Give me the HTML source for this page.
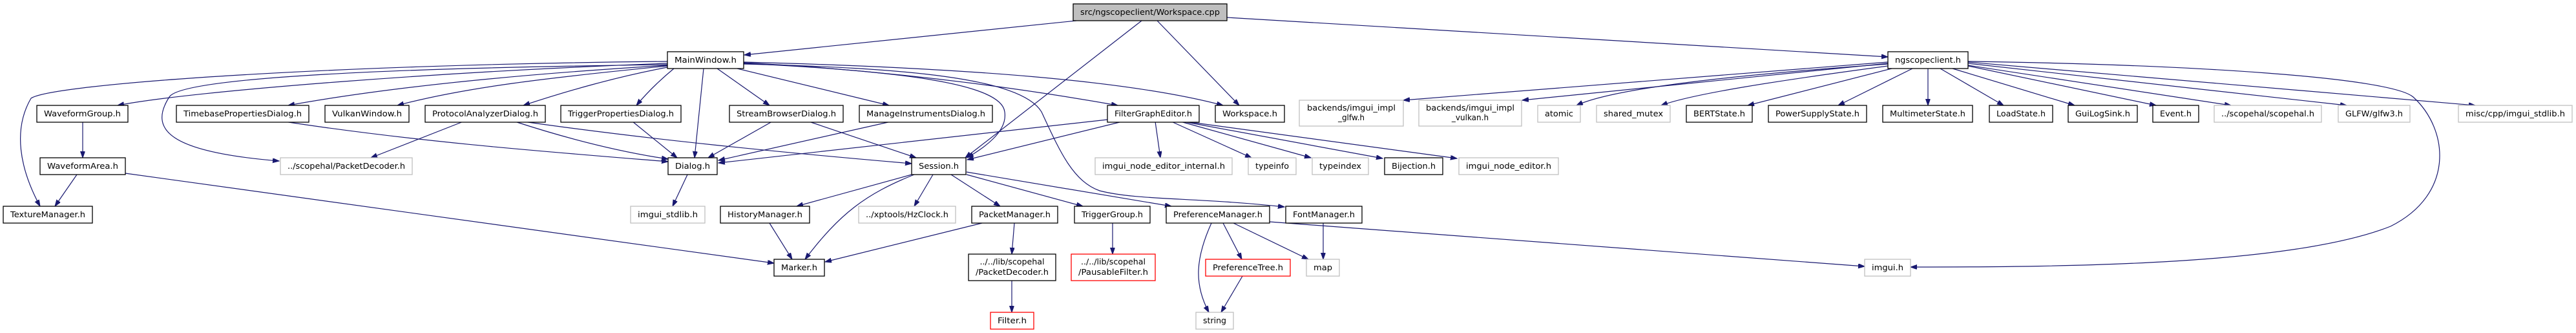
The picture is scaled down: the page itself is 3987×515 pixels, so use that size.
<!DOCTYPE html>
<html><head><meta charset="utf-8"><style>
html,body{margin:0;padding:0;background:#fff;}
svg{display:block;}
text{font-family:"DejaVu Sans","Liberation Sans",sans-serif;font-size:12px;fill:#000;text-anchor:middle;}
.b{fill:#fff;stroke:#000;stroke-width:1.3;}
.g{fill:#fff;stroke:#bfbfbf;stroke-width:1.3;}
.r{fill:#fff;stroke:#ff0000;stroke-width:1.3;}
.e{fill:none;stroke:#191970;stroke-width:1.2;marker-end:url(#a);}
</style></head><body>
<svg width="3987" height="515" viewBox="0 0 3987 515" xmlns="http://www.w3.org/2000/svg">
<defs><marker id="a" markerUnits="userSpaceOnUse" markerWidth="11" markerHeight="8" refX="10" refY="3.5" orient="auto"><path d="M0,0 L10,3.5 L0,7 z" fill="#191970" stroke="#191970"/></marker></defs>

<!-- edges -->
<g>
<path class="e" d="M1666,32 L1152,85"/>
<path class="e" d="M1767,32 L1494,244"/>
<path class="e" d="M1791,32 L1918,163"/>
<path class="e" d="M1899,27 L2922,88"/>

<path class="e" d="M1033,95 C500,100 80,130 48,152 C20,200 30,260 62,319"/>
<path class="e" d="M1033,98 C700,110 300,140 182,163"/>
<path class="e" d="M1033,100 C600,105 280,120 262,150 C230,200 260,235 432,249"/>
<path class="e" d="M1033,101 C800,115 600,135 446,163"/>
<path class="e" d="M1033,102 C850,120 720,135 615,163"/>
<path class="e" d="M1033,104 C950,120 880,140 810,163"/>
<path class="e" d="M1043,106 C1020,125 1000,145 985,163"/>
<path class="e" d="M1089,106 L1075,244"/>
<path class="e" d="M1110,106 L1191,163"/>
<path class="e" d="M1141,106 L1376,163"/>
<path class="e" d="M1151,97 C1400,110 1600,140 1730,163"/>
<path class="e" d="M1151,96 C1500,105 1750,125 1893,163"/>
<path class="e" d="M1151,98 C1400,110 1550,130 1555,173 C1560,205 1520,230 1497,244"/>
<path class="e" d="M1151,99 C1400,105 1580,120 1612,173 C1640,233 1660,280 1702,295 C1760,310 1850,305 1988,320"/>

<path class="e" d="M1064,270 L1041,319"/>
<path class="e" d="M440,188 C650,220 850,235 1034,250"/>
<path class="e" d="M797,188 C880,215 960,235 1034,246"/>
<path class="e" d="M810,188 C1000,215 1200,235 1411,253"/>
<path class="e" d="M717,188 L574,244"/>
<path class="e" d="M979,188 L1048,244"/>
<path class="e" d="M1195,188 L1096,244"/>
<path class="e" d="M1252,188 L1418,244"/>
<path class="e" d="M1379,188 L1112,248"/>
<path class="e" d="M1714,185 L1112,252"/>
<path class="e" d="M1737,188 L1497,247"/>
<path class="e" d="M1788,188 L1796,244"/>
<path class="e" d="M1813,188 L1937,244"/>
<path class="e" d="M1827,188 L2029,244"/>
<path class="e" d="M1831,188 L2140,245"/>
<path class="e" d="M1835,188 L2255,245"/>

<path class="e" d="M1411,270 L1233,319"/>
<path class="e" d="M1415,270 C1340,300 1300,330 1246,401"/>
<path class="e" d="M1444,270 L1415,319"/>
<path class="e" d="M1472,270 L1548,319"/>
<path class="e" d="M1496,270 L1676,319"/>
<path class="e" d="M1496,266 L1813,319"/>
<path class="e" d="M1191,345 L1226,401"/>
<path class="e" d="M1520,345 L1277,405"/>
<path class="e" d="M194,268 L1198,407"/>
<path class="e" d="M119,270 L85,319"/>
<path class="e" d="M128,188 L128,244"/>
<path class="e" d="M1570,345 L1566,393"/>
<path class="e" d="M1566,434 L1566,483"/>
<path class="e" d="M1722,345 L1722,393"/>
<path class="e" d="M1875,345 C1850,400 1848,440 1871,483"/>
<path class="e" d="M1893,345 L1922,401"/>
<path class="e" d="M1909,345 L2025,401"/>
<path class="e" d="M1923,427 L1890,483"/>
<path class="e" d="M2048,345 L2048,401"/>
<path class="e" d="M1965,343 L2886,412"/>

<path class="e" d="M2922,96 L2172,155"/>
<path class="e" d="M2922,98 L2356,155"/>
<path class="e" d="M2922,99 C2700,115 2500,135 2440,163"/>
<path class="e" d="M2922,102 C2750,125 2620,145 2571,163"/>
<path class="e" d="M2928,106 L2705,163"/>
<path class="e" d="M2960,106 L2845,163"/>
<path class="e" d="M2984,106 L2984,163"/>
<path class="e" d="M3003,106 L3101,163"/>
<path class="e" d="M3022,106 L3211,163"/>
<path class="e" d="M3046,102 L3337,163"/>
<path class="e" d="M3046,101 L3453,163"/>
<path class="e" d="M3046,98 L3632,163"/>
<path class="e" d="M3046,96 L3831,163"/>
<path class="e" d="M3046,95 C3400,100 3700,120 3735,150 C3790,200 3800,300 3700,350 C3550,410 3200,413 2957,413"/>
</g>

<!-- nodes -->
<g>
<rect x="1661" y="6" width="238" height="26" fill="#bfbfbf" stroke="#000" stroke-width="1.3"/><text x="1780" y="23" textLength="216" lengthAdjust="spacingAndGlyphs">src/ngscopeclient/Workspace.cpp</text>

<rect class="b" x="1033" y="80" width="118" height="26"/><text x="1092" y="97" textLength="96" lengthAdjust="spacingAndGlyphs">MainWindow.h</text>
<rect class="b" x="2922" y="80" width="124" height="26"/><text x="2984" y="97" textLength="102" lengthAdjust="spacingAndGlyphs">ngscopeclient.h</text>

<rect class="b" x="57" y="163" width="141" height="26"/><text x="127.5" y="180" textLength="119" lengthAdjust="spacingAndGlyphs">WaveformGroup.h</text>
<rect class="b" x="273" y="163" width="205" height="26"/><text x="375.5" y="180" textLength="183" lengthAdjust="spacingAndGlyphs">TimebasePropertiesDialog.h</text>
<rect class="b" x="503" y="163" width="130" height="26"/><text x="568" y="180" textLength="108" lengthAdjust="spacingAndGlyphs">VulkanWindow.h</text>
<rect class="b" x="658" y="163" width="186" height="26"/><text x="751" y="180" textLength="164" lengthAdjust="spacingAndGlyphs">ProtocolAnalyzerDialog.h</text>
<rect class="b" x="868" y="163" width="186" height="26"/><text x="961" y="180" textLength="164" lengthAdjust="spacingAndGlyphs">TriggerPropertiesDialog.h</text>
<rect class="b" x="1129" y="163" width="176" height="26"/><text x="1217" y="180" textLength="154" lengthAdjust="spacingAndGlyphs">StreamBrowserDialog.h</text>
<rect class="b" x="1330" y="163" width="206" height="26"/><text x="1433" y="180" textLength="184" lengthAdjust="spacingAndGlyphs">ManageInstrumentsDialog.h</text>
<rect class="b" x="1714" y="163" width="142" height="26"/><text x="1785" y="180" textLength="120" lengthAdjust="spacingAndGlyphs">FilterGraphEditor.h</text>
<rect class="b" x="1881" y="163" width="107" height="26"/><text x="1934.5" y="180" textLength="85" lengthAdjust="spacingAndGlyphs">Workspace.h</text>

<rect class="g" x="2011" y="155" width="161" height="40"/><text x="2091.5" y="171" textLength="137" lengthAdjust="spacingAndGlyphs">backends/imgui_impl</text><text x="2091.5" y="186">_glfw.h</text>
<rect class="g" x="2196" y="155" width="159" height="40"/><text x="2275.5" y="171" textLength="137" lengthAdjust="spacingAndGlyphs">backends/imgui_impl</text><text x="2275.5" y="186">_vulkan.h</text>
<rect class="g" x="2380" y="163" width="66" height="26"/><text x="2413" y="180" textLength="44" lengthAdjust="spacingAndGlyphs">atomic</text>
<rect class="g" x="2471" y="163" width="114" height="26"/><text x="2528" y="180" textLength="92" lengthAdjust="spacingAndGlyphs">shared_mutex</text>
<rect class="b" x="2610" y="163" width="102" height="26"/><text x="2661" y="180" textLength="80" lengthAdjust="spacingAndGlyphs">BERTState.h</text>
<rect class="b" x="2737" y="163" width="152" height="26"/><text x="2813" y="180" textLength="130" lengthAdjust="spacingAndGlyphs">PowerSupplyState.h</text>
<rect class="b" x="2914" y="163" width="139" height="26"/><text x="2983.5" y="180" textLength="117" lengthAdjust="spacingAndGlyphs">MultimeterState.h</text>
<rect class="b" x="3079" y="163" width="98" height="26"/><text x="3128" y="180" textLength="76" lengthAdjust="spacingAndGlyphs">LoadState.h</text>
<rect class="b" x="3201" y="163" width="107" height="26"/><text x="3254.5" y="180" textLength="85" lengthAdjust="spacingAndGlyphs">GuiLogSink.h</text>
<rect class="b" x="3332" y="163" width="71" height="26"/><text x="3367.5" y="180" textLength="49" lengthAdjust="spacingAndGlyphs">Event.h</text>
<rect class="g" x="3427" y="163" width="166" height="26"/><text x="3510" y="180" textLength="144" lengthAdjust="spacingAndGlyphs">../scopehal/scopehal.h</text>
<rect class="g" x="3619" y="163" width="111" height="26"/><text x="3674.5" y="180" textLength="89" lengthAdjust="spacingAndGlyphs">GLFW/glfw3.h</text>
<rect class="g" x="3805" y="163" width="176" height="26"/><text x="3893" y="180" textLength="154" lengthAdjust="spacingAndGlyphs">misc/cpp/imgui_stdlib.h</text>

<rect class="b" x="62" y="244" width="132" height="26"/><text x="128" y="261" textLength="110" lengthAdjust="spacingAndGlyphs">WaveformArea.h</text>
<rect class="g" x="434" y="244" width="204" height="26"/><text x="536" y="261" textLength="182" lengthAdjust="spacingAndGlyphs">../scopehal/PacketDecoder.h</text>
<rect class="b" x="1034" y="244" width="76" height="26"/><text x="1072" y="261" textLength="54" lengthAdjust="spacingAndGlyphs">Dialog.h</text>
<rect class="b" x="1411" y="244" width="84" height="26"/><text x="1453" y="261" textLength="62" lengthAdjust="spacingAndGlyphs">Session.h</text>
<rect class="g" x="1695" y="244" width="212" height="26"/><text x="1801" y="261" textLength="190" lengthAdjust="spacingAndGlyphs">imgui_node_editor_internal.h</text>
<rect class="g" x="1932" y="244" width="74" height="26"/><text x="1969" y="261" textLength="52" lengthAdjust="spacingAndGlyphs">typeinfo</text>
<rect class="g" x="2031" y="244" width="87" height="26"/><text x="2074.5" y="261" textLength="65" lengthAdjust="spacingAndGlyphs">typeindex</text>
<rect class="b" x="2143" y="244" width="90" height="26"/><text x="2188" y="261" textLength="68" lengthAdjust="spacingAndGlyphs">Bijection.h</text>
<rect class="g" x="2258" y="244" width="154" height="26"/><text x="2335" y="261" textLength="132" lengthAdjust="spacingAndGlyphs">imgui_node_editor.h</text>

<rect class="b" x="5" y="319" width="138" height="26"/><text x="74" y="336" textLength="116" lengthAdjust="spacingAndGlyphs">TextureManager.h</text>
<rect class="g" x="976" y="319" width="115" height="26"/><text x="1033.5" y="336" textLength="93" lengthAdjust="spacingAndGlyphs">imgui_stdlib.h</text>
<rect class="b" x="1115" y="319" width="138" height="26"/><text x="1184" y="336" textLength="116" lengthAdjust="spacingAndGlyphs">HistoryManager.h</text>
<rect class="g" x="1329" y="319" width="150" height="26"/><text x="1404" y="336" textLength="128" lengthAdjust="spacingAndGlyphs">../xptools/HzClock.h</text>
<rect class="b" x="1504" y="319" width="133" height="26"/><text x="1570.5" y="336" textLength="111" lengthAdjust="spacingAndGlyphs">PacketManager.h</text>
<rect class="b" x="1663" y="319" width="117" height="26"/><text x="1721.5" y="336" textLength="95" lengthAdjust="spacingAndGlyphs">TriggerGroup.h</text>
<rect class="b" x="1805" y="319" width="160" height="26"/><text x="1885" y="336" textLength="138" lengthAdjust="spacingAndGlyphs">PreferenceManager.h</text>
<rect class="b" x="1990" y="319" width="118" height="26"/><text x="2049" y="336" textLength="96" lengthAdjust="spacingAndGlyphs">FontManager.h</text>

<rect class="b" x="1198" y="401" width="78" height="26"/><text x="1237" y="418" textLength="56" lengthAdjust="spacingAndGlyphs">Marker.h</text>
<rect class="b" x="1499" y="393" width="135" height="41"/><text x="1566.5" y="409" textLength="100" lengthAdjust="spacingAndGlyphs">../../lib/scopehal</text><text x="1566.5" y="425" textLength="113" lengthAdjust="spacingAndGlyphs">/PacketDecoder.h</text>
<rect class="r" x="1658" y="393" width="130" height="41"/><text x="1723" y="409" textLength="100" lengthAdjust="spacingAndGlyphs">../../lib/scopehal</text><text x="1723" y="425" textLength="108" lengthAdjust="spacingAndGlyphs">/PausableFilter.h</text>
<rect class="r" x="1866" y="401" width="131" height="26"/><text x="1931.5" y="418" textLength="109" lengthAdjust="spacingAndGlyphs">PreferenceTree.h</text>
<rect class="g" x="2022" y="401" width="51" height="26"/><text x="2047.5" y="418" textLength="29" lengthAdjust="spacingAndGlyphs">map</text>
<rect class="g" x="2886" y="401" width="71" height="26"/><text x="2921.5" y="418" textLength="49" lengthAdjust="spacingAndGlyphs">imgui.h</text>

<rect class="r" x="1533" y="483" width="67" height="26"/><text x="1566.5" y="500" textLength="45" lengthAdjust="spacingAndGlyphs">Filter.h</text>
<rect class="g" x="1851" y="483" width="58" height="26"/><text x="1880" y="500" textLength="36" lengthAdjust="spacingAndGlyphs">string</text>
</g>
</svg>
</body></html>
